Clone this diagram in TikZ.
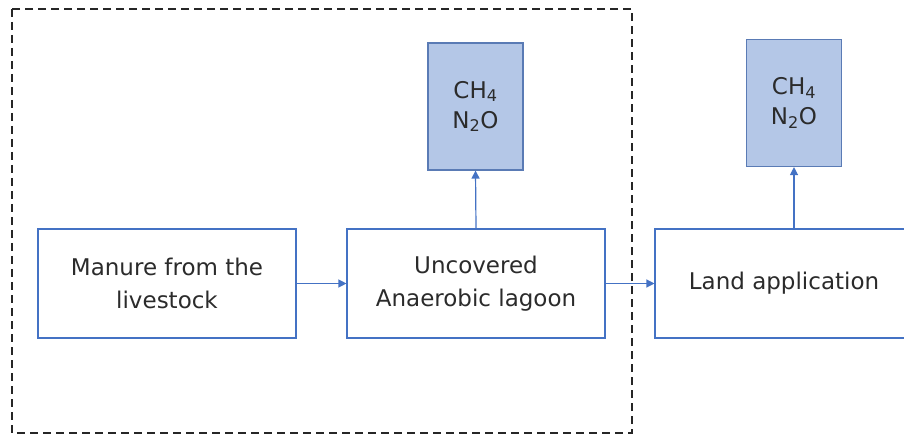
\documentclass[tikz,border=0pt]{standalone}
\usepackage{fontspec}
\setmainfont{DejaVu Sans}
\usepackage{tikz}
\usetikzlibrary{positioning}
\usetikzlibrary{arrows.meta}
\definecolor{flowblue}{HTML}{4472C4}
\definecolor{gasfill}{HTML}{B4C7E7}
\definecolor{gasline}{HTML}{5A7BB5}
\definecolor{txt}{HTML}{2B2B2B}
\tikzset{
	stage/.style={shape=rectangle, draw=flowblue, line width=1.1pt, minimum width=258pt, minimum height=109pt, inner sep=0pt, align=center, text=txt, font=\fontsize{23}{33}\selectfont},
	gas/.style={shape=rectangle, draw=gasline, fill=gasfill, line width=1.1pt, minimum width=95pt, minimum height=127pt, inner sep=0pt, align=center, text=txt, font=\fontsize{23}{30}\selectfont},
	flow/.style={-{Triangle[length=8pt,width=8pt]}, draw=flowblue, line width=1.2pt}
}

\begin{document}
\begin{tikzpicture}[x=1pt, y=1pt]
		\useasboundingbox (0,0) rectangle (904,434);
		% lagoon system boundary
		\draw[black!85, line width=1.3pt, dash pattern=on 8pt off 5pt] (12,425) rectangle (632,1);
		\node[stage] (manure) at (167,150.5) {Manure from the\\livestock};
		\node[stage] (lagoon) at (476,150.5) {Uncovered\\Anaerobic lagoon};
		\node[stage] (land) at (784,150.5) {Land application};
		\node[gas] (gasa) at (475.5,327.5) {CH\textsubscript{4}\\N\textsubscript{2}O};
		\node[gas] (gasb) at (794,331) {CH\textsubscript{4}\\N\textsubscript{2}O};
		\draw[flow] (manure) -- (lagoon);
		\draw[flow] (lagoon) -- (land);
		\draw[flow] (lagoon.north) -- (gasa.south);
		\draw[flow] (land.north -| gasb.south) -- (gasb.south);
	\end{tikzpicture}
\end{document}
